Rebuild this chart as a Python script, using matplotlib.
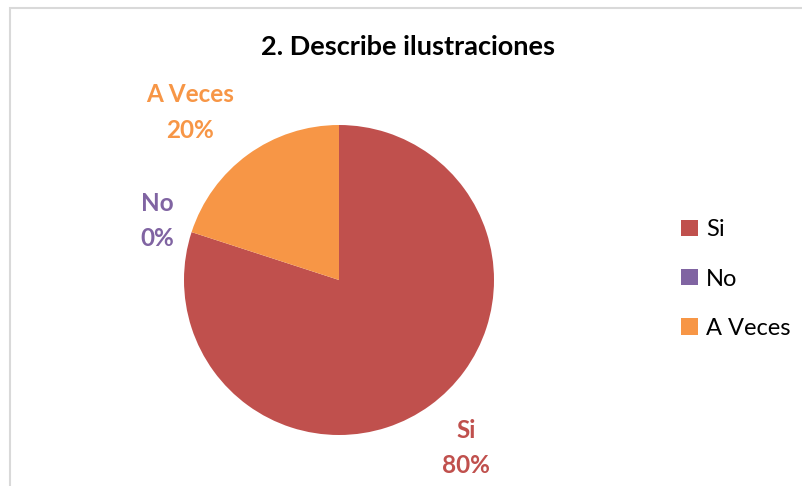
import matplotlib.pyplot as plt
import numpy as np
from matplotlib.patches import Rectangle

labels = ['Si', 'No', 'A Veces']
values = [80, 0, 20]
colors = ['#C0504D', '#8064A2', '#F79646']
label_dist = [1.36, 1.23, 1.445]
label_turn = [1.1, 0.0, 5.6]  # degrees, nudges like Excel's best fit

plt.rcParams['font.family'] = ['Lato', 'DejaVu Sans']

fig = plt.figure(figsize=(8.02, 4.86), dpi=100)

# light frame like the spreadsheet chart area
fig.patches.append(Rectangle((10/802, -0.1), 1.2, 1 - 8/486 + 0.1, transform=fig.transFigure,
                             fill=False, edgecolor='#D9D9D9', linewidth=1.5))

cx, cy, r = 339, 280, 155
ax = fig.add_axes([(cx - r)/802, (486 - cy - r)/486, 2*r/802, 2*r/486])
wedges, _ = ax.pie(values, colors=colors, startangle=90, counterclock=False,
                   wedgeprops=dict(linewidth=0))
ax.set_xlim(-1, 1)
ax.set_ylim(-1, 1)
ax.set_aspect('equal')

for w, lab, v, c, d, t in zip(wedges, labels, values, colors, label_dist, label_turn):
    th = np.deg2rad((w.theta1 + w.theta2) / 2 + t)
    ax.text(d*np.cos(th), d*np.sin(th), f'{lab}\n{v}%', color=c, fontsize=17.5,
            fontweight='bold', ha='center', va='center', linespacing=1.65)

fig.text(408/802, 1 - 47/486, '2. Describe ilustraciones', fontsize=19.5,
         fontweight='bold', ha='center', va='center', color='black')

fig.legend(wedges, labels, loc='center left', bbox_to_anchor=(660/802, 1 - 279/486),
           frameon=False, fontsize=17, handlelength=0.7, handleheight=0.7,
           handletextpad=0.35, labelspacing=1.2)

fig.savefig('out.png', dpi=100)
